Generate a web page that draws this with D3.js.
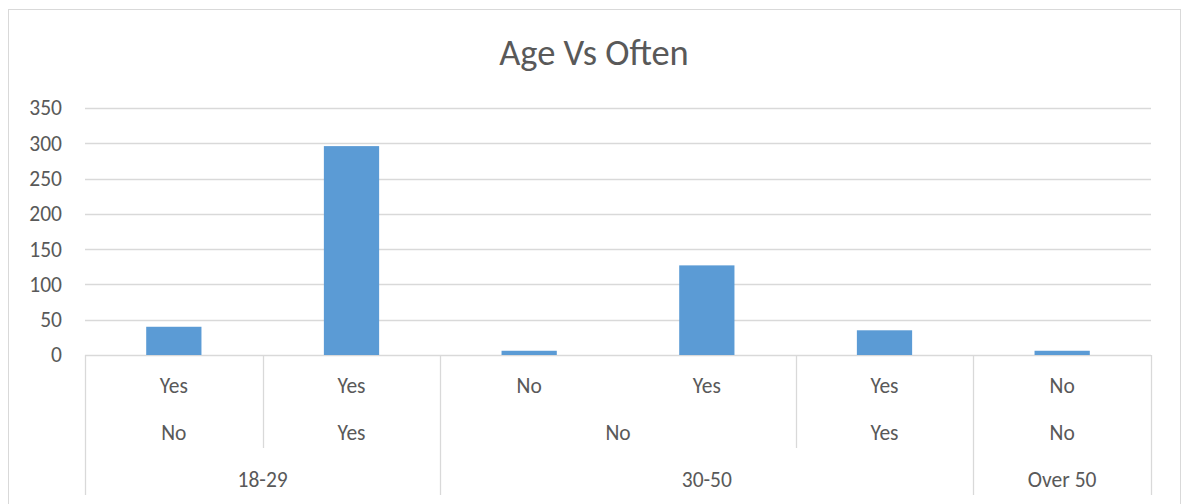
<!DOCTYPE html>
<html>
<head>
<meta charset="utf-8">
<script src="https://cdn.jsdelivr.net/npm/d3@7"></script>
<style>
  html, body { margin: 0; padding: 0; background: #fff; }
  svg { display: block; }
  text { font-family: Carlito, Calibri, Lato, "Open Sans", sans-serif; fill: #595959; }
</style>
</head>
<body>
<svg id="chart" width="1181" height="504"></svg>
<script>
const title = "Age Vs Often";
const answerLabels = ["Yes", "Yes", "No", "Yes", "Yes", "No"];   // inner level
const oftenLabels  = ["No", "Yes", "No", "No", "Yes", "No"];     // middle level
const ageGroups    = ["18-29", "18-29", "30-50", "30-50", "30-50", "Over 50"]; // outer level
const counts       = [40, 296, 6, 127, 35, 6];
const yTicks       = [0, 50, 100, 150, 200, 250, 300, 350];

const svg = d3.select("#chart");
const plotLeft = 85, plotRight = 1151, plotTop = 108, plotBottom = 355;
const row1 = 393, row2 = 440, row3 = 487;
const lvl2End = 448, lvl3End = 495;
const grid = "#d9d9d9";
const ff = "Carlito, Calibri, Lato, 'Open Sans', sans-serif";
const labelSize = 21.5;

// outer border
svg.append("rect").attr("x", 8.5).attr("y", 9.5).attr("width", 1172).attr("height", 520)
  .attr("fill", "none").attr("stroke", grid).attr("stroke-width", 1);

svg.append("text").attr("x", 594).attr("y", 65).attr("text-anchor", "middle")
  .attr("font-size", 36.5).text(title);

const idx = counts.map((d, i) => i);
const x = d3.scaleBand().domain(idx).range([plotLeft, plotRight]).padding(0);
const y = d3.scaleLinear().domain([0, 350]).range([plotBottom, plotTop]);

// gridlines
svg.append("g").selectAll("line").data(yTicks).join("line")
  .attr("x1", plotLeft).attr("x2", plotRight)
  .attr("y1", d => Math.round(y(d)) + 0.5).attr("y2", d => Math.round(y(d)) + 0.5)
  .attr("stroke", grid).attr("stroke-width", 1.3);

// y axis labels
const yAxis = d3.axisLeft(y).tickValues(yTicks).tickSize(0).tickPadding(0);
const ya = svg.append("g").attr("transform", `translate(62,0)`).call(yAxis);
ya.select(".domain").remove();
ya.selectAll("text").attr("font-size", labelSize).attr("fill", "#595959").style("font-family", ff);

// bars
const barFrac = 0.311;
svg.append("g").selectAll("rect").data(counts).join("rect")
  .attr("x", (d, i) => x(i) + x.bandwidth() * (1 - barFrac) / 2)
  .attr("width", x.bandwidth() * barFrac)
  .attr("y", d => y(d))
  .attr("height", d => y(0) - y(d))
  .attr("fill", "#5b9bd5");

// grouping helper
function groups(keys) {
  const out = [];
  keys.forEach((k, i) => {
    const last = out[out.length - 1];
    if (last && last.key === k) last.end = i; else out.push({ key: k, start: i, end: i });
  });
  return out;
}
const outerGroups = groups(ageGroups);
const midKeys = ageGroups.map((a, i) => a + "|" + oftenLabels[i]);
const midGroups = groups(midKeys).map(g => ({ ...g, label: oftenLabels[g.start] }));

// category labels
svg.append("g").selectAll("text").data(answerLabels).join("text")
  .attr("x", (d, i) => x(i) + x.bandwidth() / 2).attr("y", row1)
  .attr("text-anchor", "middle").attr("font-size", labelSize).text(d => d);
svg.append("g").selectAll("text").data(midGroups).join("text")
  .attr("x", g => (x(g.start) + x(g.end) + x.bandwidth()) / 2).attr("y", row2)
  .attr("text-anchor", "middle").attr("font-size", labelSize).text(g => g.label);
svg.append("g").selectAll("text").data(outerGroups).join("text")
  .attr("x", g => (x(g.start) + x(g.end) + x.bandwidth()) / 2).attr("y", row3)
  .attr("text-anchor", "middle").attr("font-size", labelSize).text(g => g.key);

// separators
const outerBounds = new Set([0, ...outerGroups.map(g => g.end + 1)]);
const midBounds = new Set([0, ...midGroups.map(g => g.end + 1)]);
const bounds = Array.from(midBounds).sort((a, b) => a - b);
svg.append("g").selectAll("line").data(bounds).join("line")
  .attr("x1", b => Math.round(b < counts.length ? x(b) : plotRight) + 0.5)
  .attr("x2", b => Math.round(b < counts.length ? x(b) : plotRight) + 0.5)
  .attr("y1", plotBottom).attr("y2", b => outerBounds.has(b) ? lvl3End : lvl2End)
  .attr("stroke", grid).attr("stroke-width", 1.3);
</script>
</body>
</html>
